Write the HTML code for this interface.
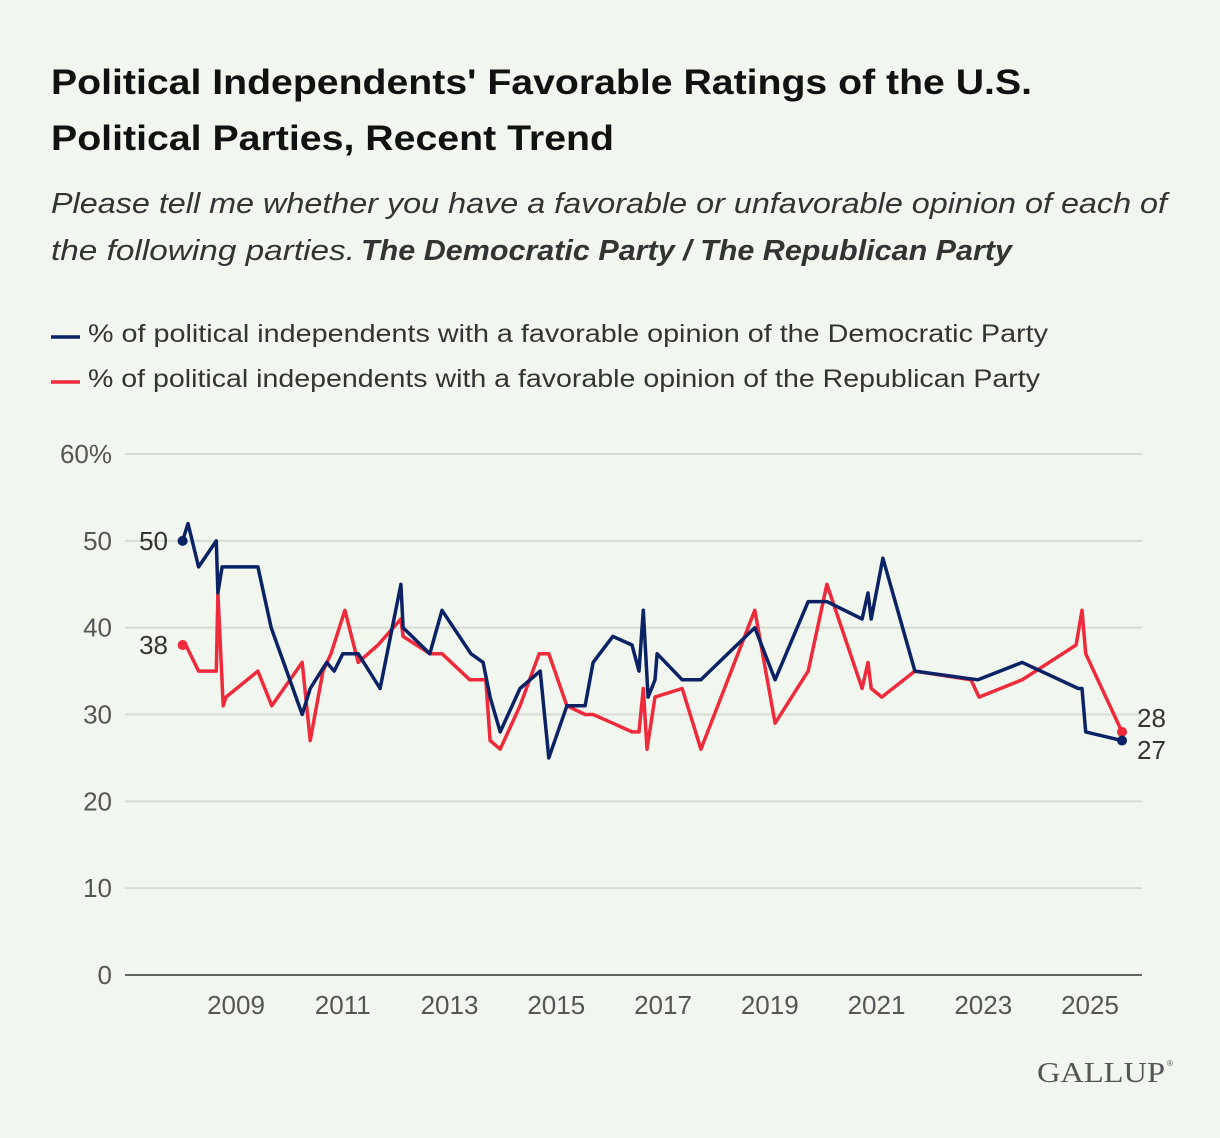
<!DOCTYPE html>
<html><head><meta charset="utf-8"><style>
html,body{margin:0;padding:0;background:#f1f6ef;}
svg{display:block;font-family:"Liberation Sans",sans-serif;}
</style></head><body>
<svg width="1220" height="1138" viewBox="0 0 1220 1138">
<rect width="1220" height="1138" fill="#f1f6ef"/>
<text x="51" y="94" font-size="35" font-weight="bold" fill="#111" textLength="981" lengthAdjust="spacingAndGlyphs">Political Independents' Favorable Ratings of the U.S.</text>
<text x="51" y="150" font-size="35" font-weight="bold" fill="#111" textLength="563" lengthAdjust="spacingAndGlyphs">Political Parties, Recent Trend</text>
<text x="51" y="213" font-size="29" font-style="italic" fill="#333" textLength="1116" lengthAdjust="spacingAndGlyphs">Please tell me whether you have a favorable or unfavorable opinion of each of</text>
<text x="51" y="260" font-size="29" font-style="italic" fill="#333"><tspan textLength="304" lengthAdjust="spacingAndGlyphs">the following parties.</tspan><tspan x="361" font-weight="bold" textLength="651" lengthAdjust="spacingAndGlyphs">The Democratic Party / The Republican Party</tspan></text>
<g>
<line x1="51" y1="337" x2="80" y2="337" stroke="#0b2265" stroke-width="3.5"/>
<text x="88" y="342" font-size="25" fill="#333" textLength="960" lengthAdjust="spacingAndGlyphs">% of political independents with a favorable opinion of the Democratic Party</text>
<line x1="51" y1="382" x2="80" y2="382" stroke="#ee2a3b" stroke-width="3.5"/>
<text x="88" y="387" font-size="25" fill="#333" textLength="952" lengthAdjust="spacingAndGlyphs">% of political independents with a favorable opinion of the Republican Party</text>
</g>
<g id="grid"></g>
<g id="series"></g>
<text x="1165" y="1082" font-size="28" text-anchor="end" fill="#555" font-family="Liberation Serif, serif" textLength="128" lengthAdjust="spacingAndGlyphs">GALLUP</text>
<text x="1167" y="1066" font-size="8" fill="#555">®</text>
</svg>
<script>
const yTicks=[0,10,20,30,40,50,60];
const xTicks=[2009,2011,2013,2015,2017,2019,2021,2023,2025];
const demYears=[2008.0,2008.1,2008.3,2008.63,2008.66,2008.74,2009.41,2009.66,2010.24,2010.39,2010.70,2010.84,2011.0,2011.29,2011.70,2012.09,2012.13,2012.63,2012.86,2013.40,2013.63,2013.76,2013.95,2014.32,2014.70,2014.86,2015.20,2015.54,2015.69,2016.06,2016.42,2016.55,2016.63,2016.72,2016.85,2016.89,2017.36,2017.71,2018.72,2019.10,2019.72,2020.07,2020.73,2020.84,2020.90,2021.12,2021.72,2022.90,2023.73,2024.78,2024.85,2024.92,2025.60];
const demValues=[50,52,47,50,44,47,47,40,30,33,36,35,37,37,33,45,40,37,42,37,36,32,28,33,35,25,31,31,36,39,38,35,42,32,34,37,34,34,40,34,43,43,41,44,41,48,35,34,36,33,33,28,27];
const repYears=[2008.0,2008.06,2008.3,2008.63,2008.66,2008.76,2008.81,2009.41,2009.67,2010.24,2010.39,2010.63,2010.78,2011.04,2011.29,2011.66,2012.09,2012.13,2012.63,2012.86,2013.38,2013.68,2013.76,2013.95,2014.32,2014.68,2014.86,2015.20,2015.54,2015.69,2016.06,2016.42,2016.55,2016.63,2016.70,2016.85,2017.36,2017.71,2018.72,2019.10,2019.72,2020.07,2020.73,2020.84,2020.90,2021.10,2021.72,2022.77,2022.92,2023.73,2024.74,2024.85,2024.92,2025.60];
const repValues=[38,38,35,35,44,31,32,35,31,36,27,35,37,42,36,38,41,39,37,37,34,34,27,26,31,37,37,31,30,30,29,28,28,33,26,32,33,26,42,29,35,45,33,36,33,32,35,34,32,34,38,42,37,28];
const NS='http://www.w3.org/2000/svg';
const X=y=>236+(y-2009)*53.375;
const Y=v=>975-v*8.683;
function mk(tag,attrs,parent,txt){const e=document.createElementNS(NS,tag);for(const k in attrs)e.setAttribute(k,attrs[k]);if(txt!==undefined)e.textContent=txt;parent.appendChild(e);return e;}
const grid=document.getElementById('grid');
yTicks.forEach(t=>{
  const l=mk('line',{x1:125,x2:1142,y1:Y(t),y2:Y(t),stroke:t===0?'#333':'#d6dbd4','stroke-width':t===0?1.5:2},grid);
  
  
  const tx=mk('text',{x:112,y:Y(t)+9,'font-size':26,'text-anchor':'end',fill:'#555'},grid,t===60?'60%':String(t));
  
  
});
xTicks.forEach(t=>{
  const tx=mk('text',{x:X(t),y:1014,'font-size':26,'text-anchor':'middle',fill:'#555'},grid,String(t));
  
  
});
const s=document.getElementById('series');
function series(years,vals,color,name){
  const d=years.map((y,i)=>(i?'L':'M')+X(y).toFixed(1)+','+Y(vals[i]).toFixed(1)).join('');
  const p=mk('path',{d:d,fill:'none',stroke:color,'stroke-width':3.5,'stroke-linejoin':'round'},s);
  
  
  [0,years.length-1].forEach(i=>{
    const c=mk('circle',{cx:X(years[i]),cy:Y(vals[i]),r:5,fill:color},s);
    
    
  });
}
series(repYears,repValues,'#ee2a3b','republican');
series(demYears,demValues,'#0b2265','democratic');
function lab(x,y,t,anchor){const e=mk('text',{x:x,y:y,'font-size':26,'text-anchor':anchor,fill:'#333'},s,t);
  
  }
lab(168,Y(demValues[0])+9,String(demValues[0]),'end');
lab(168,Y(repValues[0])+9,String(repValues[0]),'end');
lab(1137,727,String(repValues[repValues.length-1]),'start');
lab(1137,759,String(demValues[demValues.length-1]),'start');
</script>
</body></html>
